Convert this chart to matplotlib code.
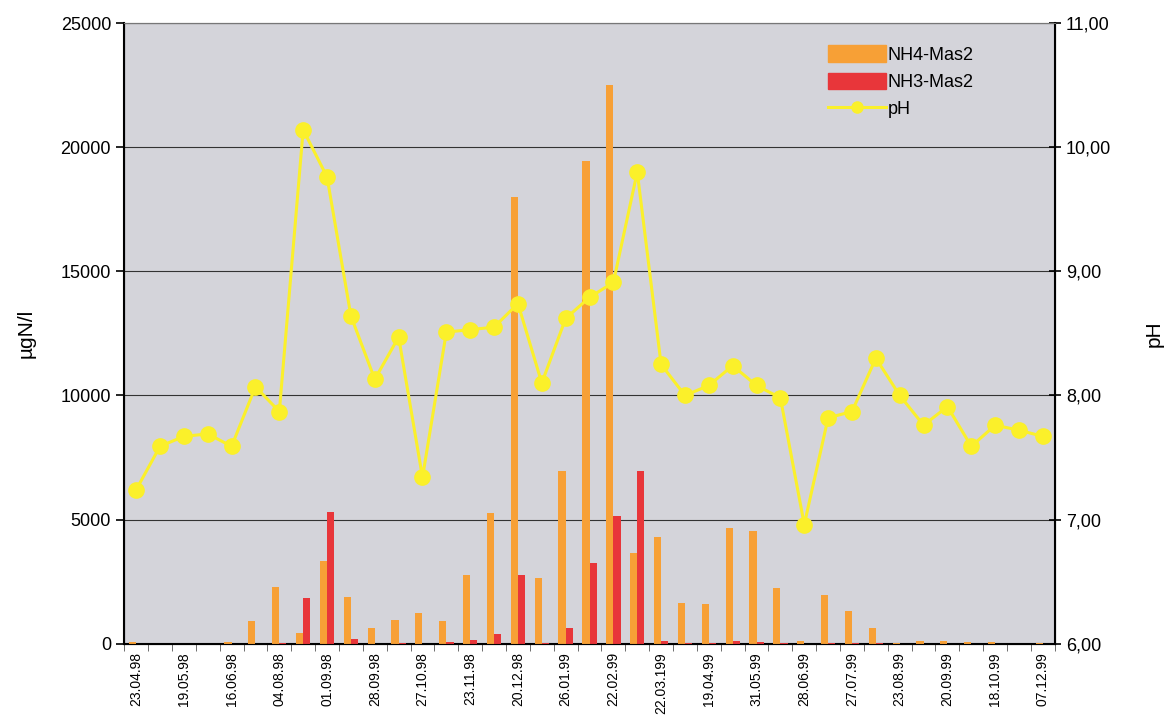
import matplotlib
matplotlib.use('Agg')
import matplotlib.pyplot as plt
from matplotlib.patches import Patch
from matplotlib.lines import Line2D
from matplotlib.ticker import FuncFormatter
import numpy as np

plt.rcParams['font.family'] = ['Liberation Sans', 'DejaVu Sans']

# sample dates, every second one is labelled on the axis
labels = ['23.04.98', '', '19.05.98', '', '16.06.98', '', '04.08.98', '', '01.09.98', '',
          '28.09.98', '', '27.10.98', '', '23.11.98', '', '20.12.98', '', '26.01.99', '',
          '22.02.99', '', '22.03.199', '', '19.04.99', '', '31.05.99', '', '28.06.99', '',
          '27.07.99', '', '23.08.99', '', '20.09.99', '', '18.10.99', '', '07.12.99']

nh4 = [50, 0, 0, 0, 50, 900, 2300, 450, 3350, 1900,
       650, 950, 1250, 900, 2750, 5250, 18000, 2650, 6950, 19450,
       22500, 3650, 4300, 1650, 1600, 4650, 4550, 2250, 100, 1950,
       1300, 650, 30, 100, 100, 60, 60, 0, 20]

nh3 = [0, 0, 0, 0, 0, 0, 30, 1850, 5300, 200,
       0, 30, 0, 50, 150, 400, 2750, 30, 650, 3250,
       5150, 6950, 100, 30, 30, 100, 60, 20, 0, 30,
       30, 20, 0, 0, 0, 0, 0, 0, 0]

ph = [7.24, 7.59, 7.67, 7.69, 7.59, 8.07, 7.87, 10.14, 9.76, 8.64,
      8.13, 8.47, 7.34, 8.51, 8.53, 8.55, 8.74, 8.10, 8.62, 8.79,
      8.91, 9.80, 8.25, 8.00, 8.08, 8.24, 8.08, 7.98, 6.96, 7.82,
      7.87, 8.30, 8.00, 7.76, 7.91, 7.59, 7.76, 7.72, 7.67]

ORANGE = '#f7a036'
RED = '#e8363a'
YELLOW = '#fbf02a'
BG = '#d4d4da'

fig = plt.figure(figsize=(11.72, 7.2), dpi=100)
ax = fig.add_axes([0.106, 0.106, 0.794, 0.862])
ax.set_facecolor(BG)

x = np.arange(len(labels))
w = 0.3
ax.bar(x - w / 2, nh4, width=w, color=ORANGE, zorder=3)
ax.bar(x + w / 2, nh3, width=w, color=RED, zorder=3)

ax.set_xlim(-0.5, len(labels) - 0.5)
ax.set_ylim(0, 25000)
ax.set_yticks(np.arange(0, 25001, 5000))
ax.yaxis.grid(True, color='#333333', linewidth=0.8, zorder=1)
ax.tick_params(axis='y', labelsize=13, length=6, width=1.2)
ax.set_ylabel('µgN/l', fontsize=15, labelpad=18)

ax.set_xticks(x)
ax.set_xticklabels(labels, rotation=90, fontsize=10)
ax.tick_params(axis='x', which='major', length=0, pad=6)
ax.set_xticks(np.arange(-0.5, len(labels)), minor=True)
ax.tick_params(axis='x', which='minor', length=5, color='#555555')

for s in ['left', 'bottom']:
    ax.spines[s].set_linewidth(1.5)
ax.spines['top'].set_color('#777777')

ax2 = ax.twinx()
ax2.plot(x, ph, color=YELLOW, linewidth=2.2, marker='o', markersize=11,
         markerfacecolor=YELLOW, markeredgecolor=YELLOW, zorder=4)
ax2.set_ylim(6, 11)
ax2.set_yticks(np.arange(6, 11.01, 1))
ax2.yaxis.set_major_formatter(FuncFormatter(lambda v, p: ('%.2f' % v).replace('.', ',')))
ax2.tick_params(axis='y', labelsize=13, length=9, width=1.2, direction='inout')
ax2.set_ylabel('pH', fontsize=15, rotation=90, labelpad=24)
ax2.spines['right'].set_linewidth(1.5)
ax2.spines['top'].set_color('#777777')

handles = [Patch(color=ORANGE, label='NH4-Mas2'),
           Patch(color=RED, label='NH3-Mas2'),
           Line2D([0], [0], color=YELLOW, linewidth=2.2, marker='o', markersize=8,
                  label='pH')]
ax2.legend(handles=handles, loc='upper right', bbox_to_anchor=(0.93, 0.99),
           frameon=False, fontsize=13, handlelength=3.2, handleheight=1.0,
           labelspacing=0.5, handletextpad=0.1)

fig.savefig('out.png', dpi=100)
plt.close()
